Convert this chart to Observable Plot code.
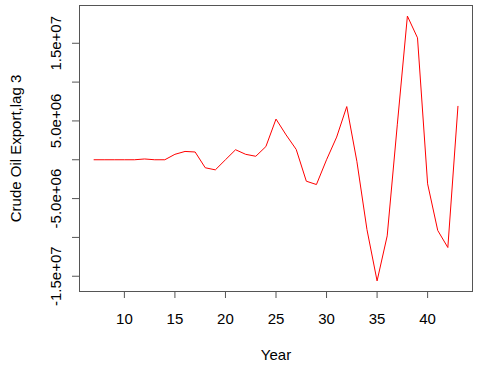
<!DOCTYPE html>
<html>
<head>
<meta charset="utf-8">
<script src="https://cdn.jsdelivr.net/npm/d3@7"></script>
<script src="https://cdn.jsdelivr.net/npm/@observablehq/plot@0.6"></script>
<style>
  html, body { margin: 0; padding: 0; background: #fff; }
  svg { font-family: "Liberation Sans", Arial, sans-serif; }
</style>
</head>
<body>
<div id="chart"></div>
<script>
const years = [7,8,9,10,11,12,13,14,15,16,17,18,19,20,21,22,23,24,25,26,27,28,29,30,31,32,33,34,35,36,37,38,39,40,41,42,43];
const values = [0,0,0,0,0,1e5,0,0,7e5,1.07e6,1.0e6,-1.03e6,-1.3e6,0,1.29e6,7e5,4.5e5,1.7e6,5.24e6,3.2e6,1.33e6,-2.76e6,-3.19e6,0,2.92e6,6.85e6,-2e5,-9.0e6,-1.56e7,-9.8e6,4.5e6,1.85e7,1.57e7,-3.1e6,-9.1e6,-1.13e7,6.88e6];
const xTicks = [10,15,20,25,30,35,40];
const yTicks = [-1.5e7,-1e7,-5e6,0,5e6,1e7,1.5e7];
const yLabelValues = [-1.5e7,-5e6,5e6,1.5e7];
const yLabelTexts = ["-1.5e+07","-5.0e+06","5.0e+06","1.5e+07"];
const xTitle = "Year";
const yTitle = "Crude Oil Export,lag 3";

const data = years.map((y, i) => ({year: y, value: values[i]}));
const yLabels = yLabelValues.map((v, i) => ({value: v, text: yLabelTexts[i]}));

function pad(ext) { const r = ext[1] - ext[0]; return [ext[0] - 0.04 * r, ext[1] + 0.04 * r]; }

const chart = Plot.plot({
  width: 480,
  height: 367,
  marginLeft: 79,
  marginRight: 8,
  marginTop: 5,
  marginBottom: 76,
  style: {fontFamily: '"Liberation Sans", Arial, sans-serif', fontSize: "15px", color: "#000", background: "#fff"},
  x: {domain: pad(d3.extent(years)), axis: null},
  y: {domain: pad(d3.extent(values)), axis: null},
  marks: [
    Plot.frame({stroke: "#555"}),
    Plot.axisX({ticks: xTicks, tickSize: 7, tickPadding: 15, fontSize: 15, stroke: "#555", label: null, tickFormat: d => String(d)}),
    Plot.axisY({ticks: yTicks, tickSize: 7, stroke: "#555", label: null, tickFormat: () => ""}),
    Plot.text(yLabels, {y: "value", text: "text", frameAnchor: "left", textAnchor: "middle", lineAnchor: "middle", dx: -23.5, rotate: -90, fontSize: 15, fill: "#000"}),
    Plot.text([xTitle], {text: d => d, frameAnchor: "bottom", textAnchor: "middle", lineAnchor: "middle", dy: 64, fontSize: 15, fill: "#000"}),
    Plot.text([yTitle], {text: d => d, frameAnchor: "left", textAnchor: "middle", lineAnchor: "middle", dx: -63, rotate: -90, fontSize: 15, fill: "#000"}),
    Plot.line(data, {x: "year", y: "value", stroke: "red", strokeWidth: 1})
  ]
});
document.getElementById("chart").appendChild(chart);
</script>
</body>
</html>
